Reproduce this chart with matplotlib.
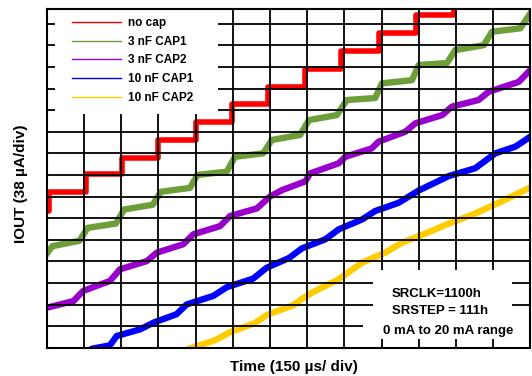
import matplotlib
matplotlib.use("Agg")
import matplotlib.pyplot as plt
from matplotlib.lines import Line2D
from matplotlib.patches import Rectangle

W, H = 532, 376

# ---- data (x: time in divisions of 150 us, y: IOUT in divisions of 38 uA) ----
labels = ["no cap", "3 nF CAP1", "3 nF CAP2", "10 nF CAP1", "10 nF CAP2"]
colors = ["#ff0000", "#6e9e3a", "#9900cc", "#0000ff", "#ffcc00"]

nocap_t = [0, 0.06, 1.05, 2.02, 3.0, 4.0, 4.99, 5.96, 6.94, 7.92, 8.92, 9.93, 10.94, 13.0]
nocap_i = [6.35, 7.22, 8.04, 8.80, 9.62, 10.46, 11.28, 12.06, 12.90, 13.75, 14.56, 15.40, 16.3, 16.3]

cap1_3nf_t = [0, 0.15, 0.88, 1.10, 1.86, 2.08, 2.85, 3.07, 3.85, 4.05, 4.84, 5.06,
              5.82, 6.05, 6.81, 7.05, 7.80, 8.07, 8.83, 9.01, 9.82, 10.0, 10.76,
              10.98, 11.75, 11.97, 12.73, 13.0]
cap1_3nf_i = [4.35, 4.70, 4.95, 5.55, 5.75, 6.40, 6.62, 7.22, 7.40, 8.00, 8.15, 8.84,
              9.00, 9.62, 9.85, 10.54, 10.77, 11.47, 11.56, 12.24, 12.39, 13.09, 13.18,
              13.78, 14.01, 14.63, 14.79, 15.48]

cap2_3nf_t = [0, 0.72, 0.98, 1.70, 1.97, 2.69, 2.96, 3.67, 3.94, 4.66, 4.93, 5.65,
              6.0, 6.33, 6.95, 7.08, 7.85, 8.03, 8.74, 8.92, 9.64, 9.91, 10.63,
              10.89, 11.61, 11.88, 12.69, 13.0]
cap2_3nf_i = [1.85, 2.16, 2.63, 3.09, 3.63, 4.01, 4.40, 4.79, 5.25, 5.63, 6.10, 6.45,
              7.00, 7.30, 7.70, 8.07, 8.54, 8.84, 9.23, 9.54, 10.0, 10.39, 10.77,
              11.16, 11.47, 11.85, 12.31, 12.86]

cap1_10nf_t = [1.0, 1.21, 1.70, 1.88, 2.51, 2.87, 3.49, 3.76, 4.48, 4.84, 5.55, 5.91,
               6.51, 6.86, 7.49, 7.85, 8.48, 8.83, 9.46, 10.0, 10.81, 11.52, 12.06,
               12.60, 13.0]
cap1_10nf_i = [-0.3, -0.05, 0.11, 0.54, 0.85, 1.16, 1.55, 2.00, 2.40, 2.80, 3.20, 3.70,
               4.15, 4.60, 5.02, 5.48, 5.94, 6.33, 6.71, 7.28, 7.95, 8.31, 9.00,
               9.31, 9.77]

cap2_10nf_t = [3.6, 3.85, 4.52, 4.93, 5.60, 5.91, 6.65, 6.81, 7.13, 7.85, 8.48, 9.10,
               9.55, 10.27, 10.81, 11.50, 12.20, 13.0]
cap2_10nf_i = [-0.3, -0.03, 0.34, 0.72, 1.14, 1.51, 1.98, 2.20, 2.55, 3.17, 3.94, 4.40,
               4.86, 5.35, 5.75, 6.20, 6.75, 7.42]

n_xdiv, n_ydiv = 13, 15.67
xgrid = list(range(1, 13))
ygrid = list(range(1, 16))

info_lines = ["SRCLK=1100h", "SRSTEP = 111h", "0 mA to 20 mA range"]
xlabel = "Time (150 \u00b5s/ div)"
ylabel = "IOUT (38 \u00b5A/div)"

# ---- figure ----
plt.rcParams["font.family"] = ["Liberation Sans", "DejaVu Sans"]
plt.rcParams["font.weight"] = "bold"

fig = plt.figure(figsize=(W / 100, H / 100), dpi=100)
L, R, T, B = 46.7, 530.3, 9.3, 347.7
ax = fig.add_axes([L / W, 1 - B / H, (R - L) / W, (B - T) / H])
ax.set_xlim(0, n_xdiv)
ax.set_ylim(0, n_ydiv)
ax.set_xticks([])
ax.set_yticks([])
for s in ax.spines.values():
    s.set_linewidth(1.5)
    s.set_color("black")
    s.set_zorder(10)

for g in xgrid:
    ax.axvline(g, color="black", lw=1.3, zorder=2.2)
for g in ygrid:
    ax.axhline(g, color="black", lw=1.3, zorder=2.2)

lw = 4.6
ax.plot(cap2_10nf_t, cap2_10nf_i, color=colors[4], lw=lw, zorder=2, solid_joinstyle="round")
ax.plot(cap1_10nf_t, cap1_10nf_i, color=colors[3], lw=lw, zorder=2, solid_joinstyle="round")
ax.plot(cap2_3nf_t, cap2_3nf_i, color=colors[2], lw=lw, zorder=2, solid_joinstyle="round")
ax.plot(cap1_3nf_t, cap1_3nf_i, color=colors[1], lw=lw, zorder=2, solid_joinstyle="round")
ax.step(nocap_t, nocap_i, where="post", color=colors[0], lw=4.0, zorder=2)

def axx(px):
    return (px - L) / (R - L)

def axy(py):
    return (B - py) / (B - T)

# white areas behind legend and annotation
ax.add_patch(Rectangle((axx(55), axy(114)), axx(218) - axx(55), 1 - axy(114),
                       transform=ax.transAxes, facecolor="white", edgecolor="none", zorder=3))
ax.add_patch(Rectangle((axx(373.3), axy(320)), axx(511.7) - axx(373.3), axy(270) - axy(320),
                       transform=ax.transAxes, facecolor="white", edgecolor="none", zorder=3))
ax.add_patch(Rectangle((axx(363), axy(338.5)), 1 - axx(363), axy(316) - axy(338.5),
                       transform=ax.transAxes, facecolor="white", edgecolor="none", zorder=3))

handles = [Line2D([], [], color=c, lw=1.0) for c in colors]
leg = ax.legend(handles, labels, loc="upper left", bbox_to_anchor=(axx(71.7), axy(17.0)),
                frameon=False, borderpad=0, borderaxespad=0, handlelength=4.2,
                handletextpad=0.55, labelspacing=0.57,
                prop={"family": "Liberation Sans", "weight": "bold", "size": 8.5})
leg.set_zorder(5)

fs_info = 9.5
fig.text(391.7 / W, 1 - 297.3 / H, info_lines[0], fontsize=fs_info, fontweight="bold", va="baseline", ha="left")
fig.text(391.7 / W, 1 - 314.0 / H, info_lines[1], fontsize=fs_info, fontweight="bold", va="baseline", ha="left")
fig.text(383.3 / W, 1 - 334.0 / H, info_lines[2], fontsize=fs_info, fontweight="bold", va="baseline", ha="left")

fig.text(294.2 / W, 1 - 367.0 / H, xlabel, fontsize=11, fontweight="bold", ha="center", va="center")
fig.text(21.0 / W, 1 - 183.4 / H, ylabel, fontsize=11, fontweight="bold", ha="center", va="center",
         rotation=90)

fig.savefig("out.png", dpi=100, facecolor="white")
